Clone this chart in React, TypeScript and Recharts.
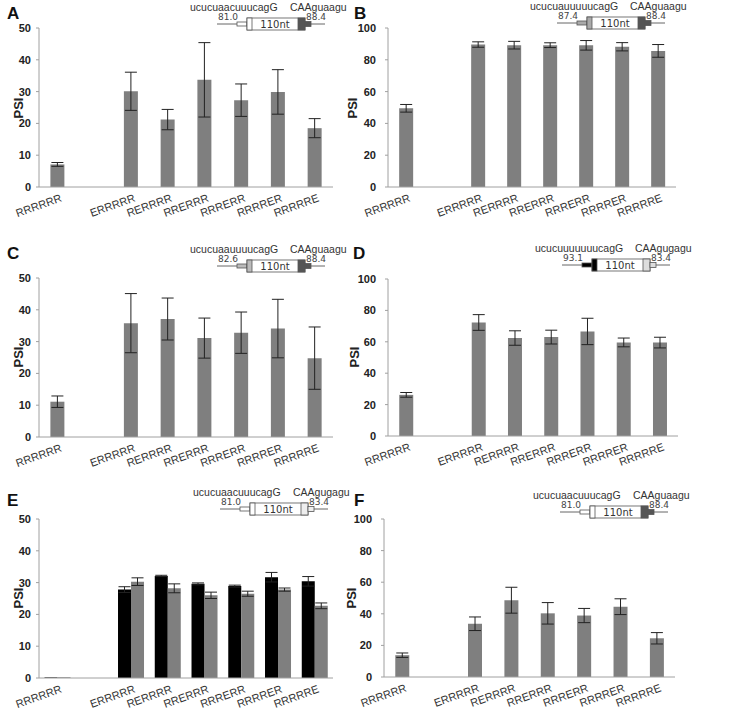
import { Bar, BarChart, ErrorBar, XAxis, YAxis } from 'recharts';

const categories = ['RRRRRR', '', 'ERRRRR', 'RERRRR', 'RRERRR', 'RRRERR', 'RRRRER', 'RRRRRE'];
const edgeTicks = [0, 1, 2, 3, 4, 5, 6, 7, 8];
const ticks50 = [0, 10, 20, 30, 40, 50];
const ticks100 = [0, 20, 40, 60, 80, 100];

const psiA = [7.1, null, 30.1, 21.2, 33.7, 27.3, 29.9, 18.5];
const errA = [0.6, null, 6, 3.2, 11.7, 5.1, 7, 3];
const psiB = [49.5, null, 89.6, 89.2, 89.2, 89.1, 88.2, 85.6];
const errB = [2.4, null, 1.7, 2.4, 1.5, 3, 2.6, 4];
const psiC = [11.1, null, 35.8, 37.1, 31.1, 32.8, 34.1, 24.8];
const errC = [1.8, null, 9.3, 6.6, 6.3, 6.5, 9.2, 9.8];
const psiD = [26.2, null, 72.3, 62.4, 63, 66.6, 59.6, 59.5];
const errD = [1.5, null, 5, 4.6, 4.4, 8.4, 2.8, 3.4];
const psiEBlack = [0.2, null, 27.8, 32.1, 29.6, 28.9, 31.7, 30.4];
const errEBlack = [0, null, 0.9, 0.2, 0.3, 0.3, 1.5, 1.5];
const psiEGrey = [0.2, null, 30.3, 28.2, 26, 26.5, 27.8, 22.7];
const errEGrey = [0, null, 1.2, 1.4, 1, 0.8, 0.5, 0.9];
const psiF = [13.8, null, 33.7, 48.6, 40.3, 38.9, 44.5, 24.5];
const errF = [1.4, null, 4.3, 8.2, 6.8, 4.5, 5, 3.6];

const GREY = '#7f7f7f';
const AXIS = '#a0a0a0';
const SANS = '"Liberation Sans", Arial, sans-serif';

type Series = { values: (number | null)[]; errors: (number | null)[]; color: string };

function CategoryTick(props: any) {
  const { x, y, payload } = props;
  const tx = x + 5;
  const ty = y + 13;
  return (
    <text x={tx} y={ty} transform={`rotate(-20, ${tx}, ${ty})`} textAnchor="end" fontSize={11} fill="#333" fontFamily={SANS}>
      {payload.value}
    </text>
  );
}

interface PanelProps {
  x: number;
  top: number;
  bottom: number;
  right: number;
  yMax: number;
  yTicks: number[];
  series: Series[];
  gap: string;
  tickGap: number;
}

function Panel({ x, top, bottom, right, yMax, yTicks, series, gap, tickGap }: PanelProps) {
  const rows = categories.map((name, i) => {
    const row: Record<string, any> = { name };
    series.forEach((s, k) => {
      row[`v${k}`] = s.values[i];
      row[`e${k}`] = s.errors[i];
    });
    return row;
  });
  const w = right - x + 39 + 20;
  const h = bottom - top + 28 + 53;
  return (
    <div style={{ position: 'absolute', left: x - 39, top: top - 28 }}>
      <BarChart width={w} height={h} data={rows} margin={{ top: 28, right: 20, left: 0, bottom: 8 }} barGap={0} barCategoryGap={gap}>
        {/* numeric axis only for the boundary tick marks between categories */}
        <XAxis xAxisId="a" type="number" domain={[0, 8]} ticks={edgeTicks} tick={false} height={1} stroke={AXIS} tickSize={4} />
        <XAxis xAxisId="b" dataKey="name" height={44} axisLine={false} tickLine={false} tickSize={0} tickMargin={0} interval={0} tick={<CategoryTick />} />
        <YAxis
          width={39}
          domain={[0, yMax]}
          ticks={yTicks}
          stroke={AXIS}
          tickSize={3}
          tickMargin={tickGap}
          tick={{ fontSize: 11, fontWeight: 'bold', fill: '#222', fontFamily: SANS }}
        />
        {series.map((s, k) => (
          <Bar key={k} xAxisId="b" dataKey={`v${k}`} fill={s.color} isAnimationActive={false}>
            <ErrorBar dataKey={`e${k}`} width={6} stroke="#222" strokeWidth={1} />
          </Bar>
        ))}
      </BarChart>
    </div>
  );
}

function Schematic({ x0, y0, leftColor, rightColor, seq, donor, leftNum, rightNum }: any) {
  return (
    <g fontFamily={SANS}>
      <text x={x0 - 27} y={y0 - 13} fontSize={10.5} fill="#333">{seq}</text>
      <text x={x0 + 73} y={y0 - 13} fontSize={10.5} fill="#333">{donor}</text>
      <text x={x0 + 1} y={y0 - 4} fontSize={9} fill="#444" fontFamily="DejaVu Sans">{leftNum}</text>
      <text x={x0 + 89} y={y0 - 4} fontSize={9} fill="#444" fontFamily="DejaVu Sans">{rightNum}</text>
      <line x1={x0} x2={x0 + 108} y1={y0} y2={y0} stroke="#666" />
      <rect x={x0 + 20} y={y0 - 2} width={10} height={4} fill={leftColor} stroke="#555" strokeWidth={0.8} />
      <rect x={x0 + 30} y={y0 - 6} width={58} height={12} fill="#fff" stroke="#555" strokeWidth={0.8} />
      <rect x={x0 + 30} y={y0 - 6} width={5} height={12} fill={leftColor} stroke="#555" strokeWidth={0.8} />
      <rect x={x0 + 81} y={y0 - 6} width={7} height={12} fill={rightColor} stroke="#555" strokeWidth={0.8} />
      <rect x={x0 + 88} y={y0 - 2.5} width={6} height={5} fill={rightColor} stroke="#555" strokeWidth={0.8} />
      <text x={x0 + 58} y={y0 + 4} fontSize={10} textAnchor="middle" fill="#333" fontFamily="DejaVu Sans">110nt</text>
    </g>
  );
}

function Letter({ x, y, t }: any) {
  return <text x={x} y={y} fontSize={17} fontWeight="bold" fill="#111" fontFamily={SANS}>{t}</text>;
}

function Psi({ x, y }: any) {
  return (
    <text x={x} y={y} transform={`rotate(-90, ${x}, ${y})`} textAnchor="middle" fontSize={13} fontWeight="bold" fill="#222" fontFamily={SANS}>
      PSI
    </text>
  );
}

export default function App() {
  return (
    <div style={{ position: 'absolute', left: 0, top: 0, width: 738, height: 712, background: '#fff' }}>
      <Panel x={39} top={28} bottom={187} right={333} yMax={50} yTicks={ticks50} gap="31%" tickGap={5}
        series={[{ values: psiA, errors: errA, color: GREY }]} />
      <Panel x={388} top={28} bottom={187} right={676} yMax={100} yTicks={ticks100} gap="31%" tickGap={9}
        series={[{ values: psiB, errors: errB, color: GREY }]} />
      <Panel x={39} top={278} bottom={437} right={333} yMax={50} yTicks={ticks50} gap="31%" tickGap={5}
        series={[{ values: psiC, errors: errC, color: GREY }]} />
      <Panel x={388} top={279} bottom={436} right={678} yMax={100} yTicks={ticks100} gap="31%" tickGap={9}
        series={[{ values: psiD, errors: errD, color: GREY }]} />
      <Panel x={39} top={519} bottom={678} right={333} yMax={50} yTicks={ticks50} gap="15%" tickGap={5}
        series={[
          { values: psiEBlack, errors: errEBlack, color: '#000' },
          { values: psiEGrey, errors: errEGrey, color: GREY },
        ]} />
      <Panel x={384} top={519} bottom={677} right={675} yMax={100} yTicks={ticks100} gap="31%" tickGap={9}
        series={[{ values: psiF, errors: errF, color: GREY }]} />
      <svg width={738} height={712} style={{ position: 'absolute', left: 0, top: 0, pointerEvents: 'none' }}>
        <Letter x={7} y={19} t="A" />
        <Letter x={354} y={19} t="B" />
        <Letter x={7} y={259} t="C" />
        <Letter x={353} y={259} t="D" />
        <Letter x={7} y={506} t="E" />
        <Letter x={354} y={506} t="F" />
        <Psi x={23} y={108} />
        <Psi x={357} y={108} />
        <Psi x={23} y={357} />
        <Psi x={359} y={357} />
        <Psi x={23} y={598} />
        <Psi x={356} y={598} />
        <Schematic x0={217} y0={24} leftColor="#fff" rightColor="#555" seq="ucucuaacuuucagG" donor="CAAguaagu" leftNum="81.0" rightNum="88.4" />
        <Schematic x0={557} y0={23} leftColor="#aaa" rightColor="#555" seq="ucucuauuuuucagG" donor="CAAguaagu" leftNum="87.4" rightNum="88.4" />
        <Schematic x0={217} y0={266} leftColor="#bbb" rightColor="#555" seq="ucucuaauuuucagG" donor="CAAguaagu" leftNum="82.6" rightNum="88.4" />
        <Schematic x0={562} y0={265} leftColor="#000" rightColor="#ddd" seq="ucucuuuuuuucagG" donor="CAAgugagu" leftNum="93.1" rightNum="83.4" />
        <Schematic x0={220} y0={509} leftColor="#fff" rightColor="#eee" seq="ucucuaacuuucagG" donor="CAAgugagu" leftNum="81.0" rightNum="83.4" />
        <Schematic x0={560} y0={512} leftColor="#fff" rightColor="#555" seq="ucucuaacuuucagG" donor="CAAguaagu" leftNum="81.0" rightNum="88.4" />
      </svg>
    </div>
  );
}
